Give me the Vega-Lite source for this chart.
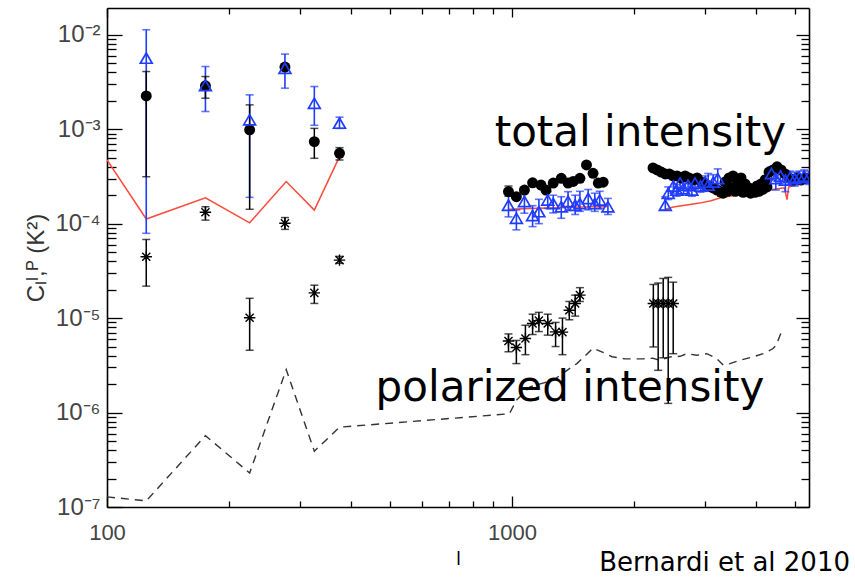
{
  "$schema": "https://vega.github.io/schema/vega-lite/v6.json",
  "width": 702,
  "height": 499,
  "autosize": {"type": "none"},
  "padding": {"left": 107, "top": 8, "right": 46, "bottom": 73},
  "background": "white",
  "title": {"text": "Bernardi et al 2010", "orient": "bottom", "anchor": "end", "frame": "group", "dx": 41, "offset": -18, "fontSize": 26, "font": "DejaVu Sans", "fontWeight": "normal", "color": "black"},
  "datasets": {
    "noiseP": [
      {"l": 100, "C": 1.28e-7}, {"l": 125, "C": 1.16e-7}, {"l": 175, "C": 5.7e-7}, {"l": 225, "C": 2.29e-7},
      {"l": 277, "C": 2.85e-6}, {"l": 325, "C": 3.9e-7}, {"l": 375, "C": 7.0e-7}, {"l": 985, "C": 9.7e-7},
      {"l": 1025, "C": 1.35e-6}, {"l": 1107, "C": 1.87e-6}, {"l": 1264, "C": 2.2e-6}, {"l": 1367, "C": 2.8e-6},
      {"l": 1446, "C": 3.3e-6}, {"l": 1585, "C": 4.8e-6}, {"l": 1665, "C": 4.4e-6}, {"l": 1766, "C": 3.9e-6},
      {"l": 1900, "C": 3.7e-6}, {"l": 2100, "C": 3.7e-6}, {"l": 2228, "C": 3.76e-6}, {"l": 2317, "C": 3.58e-6},
      {"l": 2454, "C": 3.88e-6}, {"l": 2600, "C": 3.94e-6}, {"l": 2700, "C": 4.2e-6}, {"l": 2858, "C": 4.05e-6},
      {"l": 3026, "C": 4.2e-6}, {"l": 3201, "C": 3.73e-6}, {"l": 3324, "C": 3.17e-6}, {"l": 3453, "C": 3.3e-6},
      {"l": 3655, "C": 3.58e-6}, {"l": 3936, "C": 3.88e-6}, {"l": 4167, "C": 4.2e-6}, {"l": 4410, "C": 4.76e-6},
      {"l": 4487, "C": 5.16e-6}, {"l": 4642, "C": 7.45e-6}
    ],
    "noiseI": [
      {"l": 100, "C": 4.72e-4, "seg": "a"}, {"l": 125, "C": 1.12e-4, "seg": "a"}, {"l": 175, "C": 1.88e-4, "seg": "a"},
      {"l": 225, "C": 1.02e-4, "seg": "a"}, {"l": 277, "C": 2.79e-4, "seg": "a"}, {"l": 325, "C": 1.39e-4, "seg": "a"},
      {"l": 375, "C": 5.13e-4, "seg": "a"},
      {"l": 980, "C": 1.42e-4, "seg": "b"}, {"l": 1100, "C": 1.45e-4, "seg": "b"}, {"l": 1300, "C": 1.47e-4, "seg": "b"},
      {"l": 1500, "C": 1.5e-4, "seg": "b"}, {"l": 1725, "C": 1.52e-4, "seg": "b"},
      {"l": 2390, "C": 1.42e-4, "seg": "c"}, {"l": 2500, "C": 1.5e-4, "seg": "c"}, {"l": 2700, "C": 1.58e-4, "seg": "c"},
      {"l": 2900, "C": 1.65e-4, "seg": "c"}, {"l": 3100, "C": 1.75e-4, "seg": "c"}, {"l": 3300, "C": 1.9e-4, "seg": "c"},
      {"l": 3600, "C": 2.0e-4, "seg": "c"}, {"l": 4000, "C": 2.15e-4, "seg": "c"}, {"l": 4400, "C": 2.3e-4, "seg": "c"},
      {"l": 4700, "C": 2.4e-4, "seg": "c"}, {"l": 4775, "C": 1.8e-4, "seg": "c"}, {"l": 4820, "C": 2.45e-4, "seg": "c"},
      {"l": 5100, "C": 2.6e-4, "seg": "c"}, {"l": 5410, "C": 2.7e-4, "seg": "c"}
    ],
    "pol": [
      {"l": 125, "C": 4.46e-5, "lo": 2.18e-5, "hi": 6.8e-5},
      {"l": 175, "C": 1.32e-4, "lo": 1.09e-4, "hi": 1.51e-4},
      {"l": 225, "C": 1.01e-5, "lo": 4.57e-6, "hi": 1.62e-5},
      {"l": 275, "C": 1.01e-4, "lo": 8.7e-5, "hi": 1.16e-4},
      {"l": 325, "C": 1.85e-5, "lo": 1.43e-5, "hi": 2.23e-5},
      {"l": 375, "C": 4.11e-5, "lo": 3.8e-5, "hi": 4.5e-5},
      {"l": 980, "C": 5.73e-6, "lo": 4.4e-6, "hi": 6.8e-6},
      {"l": 1025, "C": 4.88e-6, "lo": 3.3e-6, "hi": 5.8e-6},
      {"l": 1079, "C": 6.08e-6, "lo": 4.1e-6, "hi": 8.4e-6},
      {"l": 1124, "C": 8.77e-6, "lo": 6.7e-6, "hi": 1.1e-5},
      {"l": 1165, "C": 9.4e-6, "lo": 7.2e-6, "hi": 1.15e-5},
      {"l": 1225, "C": 8.77e-6, "lo": 6.6e-6, "hi": 1.1e-5},
      {"l": 1281, "C": 7.14e-6, "lo": 5.0e-6, "hi": 9.0e-6},
      {"l": 1332, "C": 7.1e-6, "lo": 4.1e-6, "hi": 1.0e-5},
      {"l": 1385, "C": 1.21e-5, "lo": 9.6e-6, "hi": 1.5e-5},
      {"l": 1432, "C": 1.43e-5, "lo": 1.05e-5, "hi": 1.75e-5},
      {"l": 1471, "C": 1.75e-5, "lo": 1.5e-5, "hi": 2.1e-5},
      {"l": 2233, "C": 1.43e-5, "lo": 4.95e-6, "hi": 2.27e-5},
      {"l": 2295, "C": 1.43e-5, "lo": 2.8e-6, "hi": 2.35e-5},
      {"l": 2362, "C": 1.43e-5, "lo": 3.8e-6, "hi": 2.63e-5},
      {"l": 2430, "C": 1.43e-5, "lo": 1.25e-6, "hi": 2.7e-5},
      {"l": 2500, "C": 1.43e-5, "lo": 4.2e-6, "hi": 2.4e-5}
    ],
    "circ": [
      {"l": 125, "C": 2.25e-3, "lo": 3.14e-4, "hi": 4.08e-3},
      {"l": 175, "C": 2.88e-3, "lo": 2.13e-3, "hi": 3.61e-3},
      {"l": 225, "C": 9.85e-4, "lo": 1.42e-4, "hi": 1.81e-3},
      {"l": 275, "C": 4.55e-3, "lo": 4.2e-3, "hi": 4.9e-3},
      {"l": 325, "C": 7.39e-4, "lo": 4.92e-4, "hi": 1.02e-3},
      {"l": 375, "C": 5.56e-4, "lo": 4.72e-4, "hi": 6.38e-4},
      {"l": 980, "C": 2.18e-4, "lo": 1.95e-4, "hi": 2.5e-4},
      {"l": 1025, "C": 1.93e-4}, {"l": 1073, "C": 2.27e-4}, {"l": 1124, "C": 2.71e-4}, {"l": 1179, "C": 2.56e-4},
      {"l": 1213, "C": 2.27e-4}, {"l": 1264, "C": 2.69e-4}, {"l": 1323, "C": 3.02e-4}, {"l": 1375, "C": 2.69e-4},
      {"l": 1416, "C": 2.8e-4}, {"l": 1471, "C": 3.02e-4}, {"l": 1527, "C": 4.18e-4}, {"l": 1585, "C": 3.41e-4},
      {"l": 1633, "C": 2.69e-4}, {"l": 1679, "C": 2.75e-4},
      {"l": 2229, "C": 3.89e-4}, {"l": 2282, "C": 3.7e-4}, {"l": 2335, "C": 3.52e-4}, {"l": 2390, "C": 3.36e-4},
      {"l": 2445, "C": 3.36e-4}, {"l": 2502, "C": 3.2e-4}, {"l": 2555, "C": 3.2e-4}, {"l": 2614, "C": 3.05e-4},
      {"l": 2675, "C": 3.2e-4}, {"l": 2736, "C": 3.05e-4}, {"l": 2798, "C": 2.9e-4}, {"l": 2863, "C": 3.05e-4},
      {"l": 2929, "C": 2.76e-4}, {"l": 2996, "C": 2.63e-4}, {"l": 3065, "C": 2.51e-4}, {"l": 3135, "C": 2.39e-4},
      {"l": 3208, "C": 2.27e-4}, {"l": 3281, "C": 2.16e-4, "lo": 1.95e-4, "hi": 2.4e-4}, {"l": 3357, "C": 2.76e-4},
      {"l": 3320, "C": 2.1e-4}, {"l": 3400, "C": 2.2e-4}, {"l": 3480, "C": 2.4e-4}, {"l": 3560, "C": 2.2e-4},
      {"l": 3640, "C": 2.3e-4}, {"l": 3720, "C": 2.15e-4}, {"l": 3800, "C": 2.2e-4}, {"l": 3880, "C": 2.1e-4},
      {"l": 3980, "C": 2.15e-4}, {"l": 4070, "C": 2.2e-4}, {"l": 4160, "C": 2.3e-4}, {"l": 4260, "C": 2.45e-4},
      {"l": 3434, "C": 3.05e-4}, {"l": 3513, "C": 3.2e-4}, {"l": 3594, "C": 2.9e-4}, {"l": 3676, "C": 3.05e-4},
      {"l": 3761, "C": 2.63e-4}, {"l": 3848, "C": 2.39e-4}, {"l": 3936, "C": 2.27e-4, "lo": 2.0e-4, "hi": 2.5e-4},
      {"l": 4027, "C": 2.51e-4}, {"l": 4120, "C": 2.63e-4}, {"l": 4214, "C": 2.9e-4}, {"l": 4311, "C": 3.52e-4},
      {"l": 4410, "C": 3.7e-4}, {"l": 4512, "C": 4.0e-4}, {"l": 4616, "C": 3.7e-4}, {"l": 4722, "C": 3.36e-4},
      {"l": 4831, "C": 3.05e-4}, {"l": 4942, "C": 2.9e-4}, {"l": 5056, "C": 3.05e-4}, {"l": 5172, "C": 2.9e-4},
      {"l": 5291, "C": 3.05e-4}
    ],
    "tri": [
      {"l": 125, "C": 5.66e-3, "lo": 7.9e-5, "hi": 1.13e-2},
      {"l": 175, "C": 2.9e-3, "lo": 1.54e-3, "hi": 4.61e-3},
      {"l": 225, "C": 1.26e-3, "lo": 1.9e-4, "hi": 2.31e-3},
      {"l": 275, "C": 4.43e-3, "lo": 2.72e-3, "hi": 6.24e-3},
      {"l": 325, "C": 1.88e-3, "lo": 1.1e-3, "hi": 2.83e-3},
      {"l": 375, "C": 1.16e-3, "lo": 1.02e-3, "hi": 1.34e-3},
      {"l": 980, "C": 1.57e-4, "lo": 1.18e-4, "hi": 2.1e-4},
      {"l": 1025, "C": 1.14e-4, "lo": 8.6e-5, "hi": 1.4e-4},
      {"l": 1073, "C": 1.72e-4, "lo": 1.29e-4, "hi": 2.27e-4},
      {"l": 1124, "C": 1.22e-4, "lo": 9.3e-5, "hi": 1.55e-4},
      {"l": 1165, "C": 1.34e-4, "lo": 1.0e-4, "hi": 1.81e-4},
      {"l": 1225, "C": 1.78e-4, "lo": 1.45e-4, "hi": 2.18e-4},
      {"l": 1264, "C": 1.63e-4, "lo": 1.3e-4, "hi": 2.0e-4},
      {"l": 1323, "C": 1.51e-4, "lo": 1.14e-4, "hi": 1.93e-4},
      {"l": 1375, "C": 1.72e-4, "lo": 1.38e-4, "hi": 2.18e-4},
      {"l": 1432, "C": 1.57e-4, "lo": 1.25e-4, "hi": 2.0e-4},
      {"l": 1471, "C": 1.63e-4, "lo": 1.35e-4, "hi": 2.2e-4},
      {"l": 1542, "C": 1.85e-4, "lo": 1.4e-4, "hi": 2.3e-4},
      {"l": 1601, "C": 1.63e-4, "lo": 1.35e-4, "hi": 2.1e-4},
      {"l": 1646, "C": 1.78e-4, "lo": 1.45e-4, "hi": 2.2e-4},
      {"l": 1725, "C": 1.51e-4, "lo": 1.25e-4, "hi": 1.85e-4},
      {"l": 2390, "C": 1.57e-4, "lo": 1.4e-4, "hi": 1.93e-4},
      {"l": 2430, "C": 2.1e-4, "lo": 1.8e-4, "hi": 2.45e-4},
      {"l": 2502, "C": 2.5e-4, "lo": 2.1e-4, "hi": 2.9e-4},
      {"l": 2550, "C": 2.27e-4, "lo": 1.95e-4, "hi": 2.6e-4},
      {"l": 2600, "C": 2.69e-4, "lo": 2.3e-4, "hi": 3.1e-4},
      {"l": 2650, "C": 2.35e-4, "lo": 2.0e-4, "hi": 2.7e-4},
      {"l": 2720, "C": 2.56e-4, "lo": 2.2e-4, "hi": 2.95e-4},
      {"l": 2780, "C": 2.27e-4, "lo": 1.95e-4, "hi": 2.6e-4},
      {"l": 2830, "C": 2.69e-4, "lo": 2.3e-4, "hi": 3.1e-4},
      {"l": 2920, "C": 2.5e-4, "lo": 2.15e-4, "hi": 2.9e-4},
      {"l": 3000, "C": 2.76e-4, "lo": 2.35e-4, "hi": 3.2e-4},
      {"l": 3050, "C": 2.56e-4, "lo": 2.2e-4, "hi": 3.4e-4},
      {"l": 3140, "C": 2.76e-4, "lo": 2.35e-4, "hi": 3.3e-4},
      {"l": 3220, "C": 3.0e-4, "lo": 2.5e-4, "hi": 3.8e-4},
      {"l": 4370, "C": 3.4e-4, "lo": 2.9e-4, "hi": 4.0e-4},
      {"l": 4480, "C": 3.0e-4, "lo": 2.27e-4, "hi": 3.5e-4},
      {"l": 4600, "C": 3.2e-4, "lo": 2.7e-4, "hi": 3.7e-4},
      {"l": 4730, "C": 2.9e-4, "lo": 2.18e-4, "hi": 3.4e-4},
      {"l": 4860, "C": 3.1e-4, "lo": 2.6e-4, "hi": 3.6e-4},
      {"l": 4990, "C": 3.0e-4, "lo": 2.5e-4, "hi": 3.5e-4},
      {"l": 5120, "C": 3.1e-4, "lo": 2.6e-4, "hi": 3.6e-4},
      {"l": 5260, "C": 3.2e-4, "lo": 2.7e-4, "hi": 3.7e-4},
      {"l": 5400, "C": 3.1e-4, "lo": 2.6e-4, "hi": 3.6e-4}
    ],
    "labels": [
      {"l": 2075, "C": 6.65e-4, "text": "total intensity"},
      {"l": 1390, "C": 1.31e-6, "text": "polarized intensity"}
    ]
  },
  "layer": [
    {
      "data": {"name": "noiseP"},
      "mark": {"type": "line", "strokeDash": [8, 6], "color": "#333333", "strokeWidth": 1.4, "clip": true},
      "encoding": {
        "x": {"field": "l", "type": "quantitative", "scale": {"type": "log", "domain": [100, 5410]},
          "axis": {"orient": "bottom", "values": [100, 200, 300, 400, 500, 600, 700, 800, 900, 1000, 2000, 3000, 4000, 5000],
            "tickSize": {"condition": {"test": "datum.value == 100 || datum.value == 1000", "value": -11}, "value": -6},
            "labelExpr": "datum.value == 100 ? '100' : datum.value == 1000 ? '1000' : ''",
            "labelPadding": 26, "labelFontSize": 22, "labelFlush": false, "labelOverlap": false, "labelBound": false,
            "title": "l", "titleFont": "DejaVu Sans", "titleFontSize": 18, "titleFontWeight": "normal", "titleColor": "black", "titlePadding": 2}},
        "y": {"field": "C", "type": "quantitative", "scale": {"type": "log", "domain": [1e-7, 0.0192]},
          "axis": {"orient": "left",
            "values": [1e-7, 2e-7, 3e-7, 4e-7, 5e-7, 6e-7, 7e-7, 8e-7, 9e-7, 1e-6, 2e-6, 3e-6, 4e-6, 5e-6, 6e-6, 7e-6, 8e-6, 9e-6, 1e-5, 2e-5, 3e-5, 4e-5, 5e-5, 6e-5, 7e-5, 8e-5, 9e-5, 1e-4, 2e-4, 3e-4, 4e-4, 5e-4, 6e-4, 7e-4, 8e-4, 9e-4, 1e-3, 2e-3, 3e-3, 4e-3, 5e-3, 6e-3, 7e-3, 8e-3, 9e-3, 1e-2],
            "tickSize": {"condition": {"test": "indexof([1e-7, 1e-6, 1e-5, 1e-4, 1e-3, 1e-2], datum.value) >= 0", "value": -15}, "value": -9},
            "labelExpr": "datum.value == 1e-2 ? '10⁻²' : datum.value == 1e-3 ? '10⁻³' : datum.value == 1e-4 ? '10⁻⁴' : datum.value == 1e-5 ? '10⁻⁵' : datum.value == 1e-6 ? '10⁻⁶' : datum.value == 1e-7 ? '10⁻⁷' : ''",
            "labelPadding": 22, "labelFontSize": 24, "labelFlush": false, "labelOverlap": false, "labelBound": false,
            "title": "Cₗᴵ,ᴾ (K²)", "titleFont": "Liberation Sans", "titleFontSize": 24, "titleFontWeight": "normal", "titleColor": "#333333", "titlePadding": 6}}
      }
    },
    {
      "data": {"name": "noiseI"},
      "mark": {"type": "line", "color": "#ff4a3a", "strokeWidth": 1.5, "clip": true},
      "encoding": {
        "x": {"field": "l", "type": "quantitative", "scale": {"type": "log", "domain": [100, 5410]},
          "axis": {"orient": "top", "values": [100, 200, 300, 400, 500, 600, 700, 800, 900, 1000, 2000, 3000, 4000, 5000],
            "tickSize": {"condition": {"test": "datum.value == 100 || datum.value == 1000", "value": -9}, "value": -6},
            "labels": false, "title": null}},
        "y": {"field": "C", "type": "quantitative", "scale": {"type": "log", "domain": [1e-7, 0.0192]},
          "axis": {"orient": "right",
            "values": [1e-7, 2e-7, 3e-7, 4e-7, 5e-7, 6e-7, 7e-7, 8e-7, 9e-7, 1e-6, 2e-6, 3e-6, 4e-6, 5e-6, 6e-6, 7e-6, 8e-6, 9e-6, 1e-5, 2e-5, 3e-5, 4e-5, 5e-5, 6e-5, 7e-5, 8e-5, 9e-5, 1e-4, 2e-4, 3e-4, 4e-4, 5e-4, 6e-4, 7e-4, 8e-4, 9e-4, 1e-3, 2e-3, 3e-3, 4e-3, 5e-3, 6e-3, 7e-3, 8e-3, 9e-3, 1e-2],
            "tickSize": {"condition": {"test": "indexof([1e-7, 1e-6, 1e-5, 1e-4, 1e-3, 1e-2], datum.value) >= 0", "value": -13}, "value": -8},
            "labels": false, "title": null}},
        "detail": {"field": "seg", "type": "nominal"}
      }
    },
    {
      "data": {"name": "pol"},
      "mark": {"type": "errorbar", "color": "black", "thickness": 1.5, "ticks": {"size": 8, "thickness": 1.5}},
      "encoding": {
        "x": {"field": "l", "type": "quantitative", "scale": {"type": "log", "domain": [100, 5410]}, "axis": null},
        "y": {"field": "lo", "type": "quantitative", "scale": {"type": "log", "domain": [1e-7, 0.0192]}, "axis": null},
        "y2": {"field": "hi"}
      }
    },
    {
      "data": {"name": "pol"},
      "mark": {"type": "point", "shape": "M-1,0L1,0M0,-1L0,1M-0.71,-0.71L0.71,0.71M-0.71,0.71L0.71,-0.71", "filled": false, "color": "black", "strokeWidth": 1.4, "size": 130, "opacity": 1},
      "encoding": {
        "x": {"field": "l", "type": "quantitative", "scale": {"type": "log", "domain": [100, 5410]}, "axis": null},
        "y": {"field": "C", "type": "quantitative", "scale": {"type": "log", "domain": [1e-7, 0.0192]}, "axis": null}
      }
    },
    {
      "data": {"name": "tri"},
      "mark": {"type": "errorbar", "color": "#1f3cff", "thickness": 1.6, "ticks": {"size": 8, "thickness": 1.6}, "clip": true},
      "encoding": {
        "x": {"field": "l", "type": "quantitative", "scale": {"type": "log", "domain": [100, 5410]}, "axis": null},
        "y": {"field": "lo", "type": "quantitative", "scale": {"type": "log", "domain": [1e-7, 0.0192]}, "axis": null},
        "y2": {"field": "hi"}
      }
    },
    {
      "data": {"name": "circ"},
      "transform": [{"filter": "isValid(datum.lo)"}],
      "mark": {"type": "errorbar", "color": "black", "thickness": 1.5, "ticks": {"size": 8, "thickness": 1.5}},
      "encoding": {
        "x": {"field": "l", "type": "quantitative", "scale": {"type": "log", "domain": [100, 5410]}, "axis": null},
        "y": {"field": "lo", "type": "quantitative", "scale": {"type": "log", "domain": [1e-7, 0.0192]}, "axis": null},
        "y2": {"field": "hi"}
      }
    },
    {
      "data": {"name": "circ"},
      "mark": {"type": "circle", "color": "black", "size": 120, "opacity": 1, "clip": true},
      "encoding": {
        "x": {"field": "l", "type": "quantitative", "scale": {"type": "log", "domain": [100, 5410]}, "axis": null},
        "y": {"field": "C", "type": "quantitative", "scale": {"type": "log", "domain": [1e-7, 0.0192]}, "axis": null}
      }
    },
    {
      "data": {"name": "tri"},
      "mark": {"type": "point", "shape": "triangle-up", "filled": false, "color": "#1f3cff", "strokeWidth": 1.7, "size": 140, "opacity": 1, "clip": true},
      "encoding": {
        "x": {"field": "l", "type": "quantitative", "scale": {"type": "log", "domain": [100, 5410]}, "axis": null},
        "y": {"field": "C", "type": "quantitative", "scale": {"type": "log", "domain": [1e-7, 0.0192]}, "axis": null}
      }
    },
    {
      "data": {"name": "labels"},
      "mark": {"type": "text", "font": "DejaVu Sans", "fontSize": 42, "align": "center", "baseline": "alphabetic", "color": "black"},
      "encoding": {
        "x": {"field": "l", "type": "quantitative", "scale": {"type": "log", "domain": [100, 5410]}, "axis": null},
        "y": {"field": "C", "type": "quantitative", "scale": {"type": "log", "domain": [1e-7, 0.0192]}, "axis": null},
        "text": {"field": "text"}
      }
    }
  ],
  "resolve": {"axis": {"x": "independent", "y": "independent"}},
  "config": {
    "view": {"stroke": null},
    "axis": {"grid": false, "domainColor": "black", "domainWidth": 1.6, "tickColor": "black", "tickWidth": 1.3, "labelFont": "Liberation Sans", "labelColor": "#444444"}
  }
}
